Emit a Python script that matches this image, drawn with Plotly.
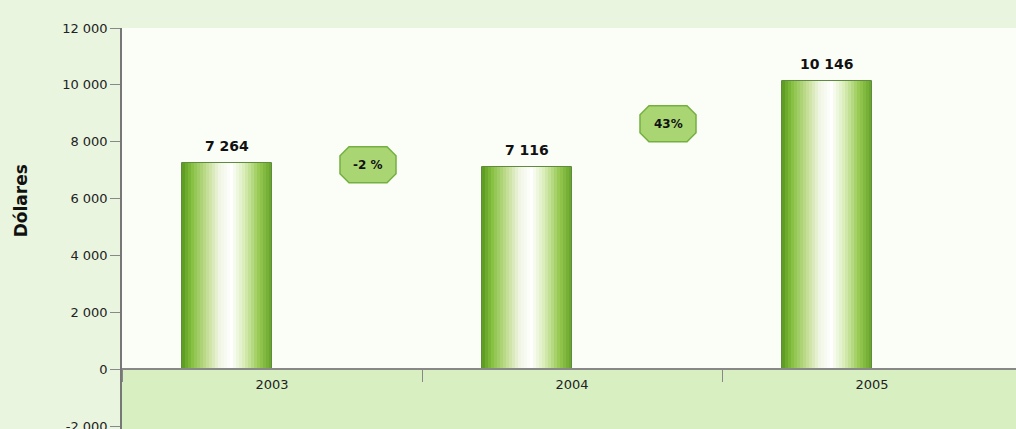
import plotly.graph_objects as go

# ---- data ----
years = ["2003", "2004", "2005"]
values = [7264, 7116, 10146]
change_labels = ["-2 %", "43%"]
y_tick_vals = [-2000, 0, 2000, 4000, 6000, 8000, 10000, 12000]
y_tick_text = ["-2 000", "0", "2 000", "4 000", "6 000", "8 000", "10 000", "12 000"]

# ---- styling ----
grad_stops = [
    (0.00, (88, 150, 30)),
    (0.10, (130, 190, 60)),
    (0.28, (196, 222, 150)),
    (0.42, (240, 246, 228)),
    (0.55, (255, 255, 255)),
    (0.70, (214, 236, 180)),
    (0.86, (150, 200, 80)),
    (1.00, (100, 162, 40)),
]
N_STRIPES = 30
BAR_W = 0.3
BAR_OFF = -0.3
Y_MIN, Y_MAX = -2100, 12000


def grad_color(t):
    for (p0, c0), (p1, c1) in zip(grad_stops[:-1], grad_stops[1:]):
        if p0 <= t <= p1:
            f = (t - p0) / (p1 - p0) if p1 > p0 else 0
            c = [round(a + (b - a) * f) for a, b in zip(c0, c1)]
            return f"rgb({c[0]},{c[1]},{c[2]})"
    c = grad_stops[-1][1]
    return f"rgb({c[0]},{c[1]},{c[2]})"


fig = go.Figure()
sw = BAR_W / N_STRIPES
for k in range(N_STRIPES):
    t = (k + 0.5) / N_STRIPES
    fig.add_trace(go.Bar(
        x=years, y=values, offset=BAR_OFF + k * sw, width=sw * 1.05,
        marker=dict(color=grad_color(t), line=dict(width=0)),
        hoverinfo="skip", showlegend=False,
    ))

# outline
fig.add_trace(go.Bar(
    x=years, y=values, offset=BAR_OFF, width=BAR_W,
    marker=dict(color="rgba(0,0,0,0)", line=dict(color="#5f8a40", width=1)),
    showlegend=False,
))

annotations = []
for i, v in enumerate(values):
    annotations.append(dict(
        x=i + BAR_OFF + BAR_W / 2, y=v, xref="x", yref="y",
        text=f"{v:,}".replace(",", " "), showarrow=False,
        yanchor="middle", yshift=17,
        font=dict(family="DejaVu Sans", size=14, color="#111", weight="bold"),
    ))

shapes = [
    dict(type="rect", xref="x domain", yref="y", x0=0, x1=1, y0=Y_MIN, y1=0,
         fillcolor="#d8efc2", line=dict(width=0), layer="below"),
]

oct_path = "M -28 -9 L -19 -18 L 19 -18 L 28 -9 L 28 9 L 19 18 L -19 18 L -28 9 Z"
for i, lab in enumerate(change_labels):
    xc = i + 0.32
    yc = (values[i] + values[i + 1]) / 2
    shapes.append(dict(
        type="path", xref="x", yref="y", xsizemode="pixel", ysizemode="pixel",
        xanchor=xc, yanchor=yc, path=oct_path,
        fillcolor="#a9d672", line=dict(color="#74b040", width=1.5), layer="above",
    ))
    annotations.append(dict(
        x=xc, y=yc, xref="x", yref="y", text=lab, showarrow=False,
        font=dict(family="DejaVu Sans", size=12, color="#111", weight="bold"),
    ))

annotations.append(dict(
    x=-0.112, y=0.57, xref="paper", yref="paper", text="Dólares", textangle=-90,
    xanchor="center", yanchor="middle",
    showarrow=False, font=dict(family="DejaVu Sans", size=17, color="#111", weight="bold"),
))

fig.update_layout(
    width=1016, height=429,
    margin=dict(l=122, r=0, t=28, b=0, autoexpand=False),
    paper_bgcolor="#eaf5df",
    plot_bgcolor="#fbfdf7",
    barmode="overlay",
    bargap=0,
    showlegend=False,
    shapes=shapes,
    annotations=annotations,
    font=dict(family="DejaVu Sans", size=13, color="#222"),
)
fig.update_xaxes(
    type="category", range=[-0.5, 2.48],
    anchor="free", position=(0 - Y_MIN) / (Y_MAX - Y_MIN),
    showline=True, linecolor="#888", linewidth=1.5,
    ticks="outside", tickson="boundaries", ticklen=12, tickcolor="#888",
    ticklabelstandoff=3, automargin=False,
    showgrid=False, zeroline=False,
    tickfont=dict(family="DejaVu Sans", size=13, color="#222"),
)
fig.update_yaxes(
    range=[Y_MIN, Y_MAX],
    tickvals=y_tick_vals, ticktext=y_tick_text,
    showline=True, linecolor="#777", linewidth=1.5,
    ticks="outside", ticklen=10, tickcolor="#888",
    ticklabeloverflow="allow", automargin=False,
    showgrid=False, zeroline=False,
    tickfont=dict(family="DejaVu Sans", size=13, color="#222"),
)

fig.write_html(
    "out.html",
    config={"displayModeBar": False},
    post_script="document.body.style.margin='0';document.body.style.overflow='hidden';",
)
